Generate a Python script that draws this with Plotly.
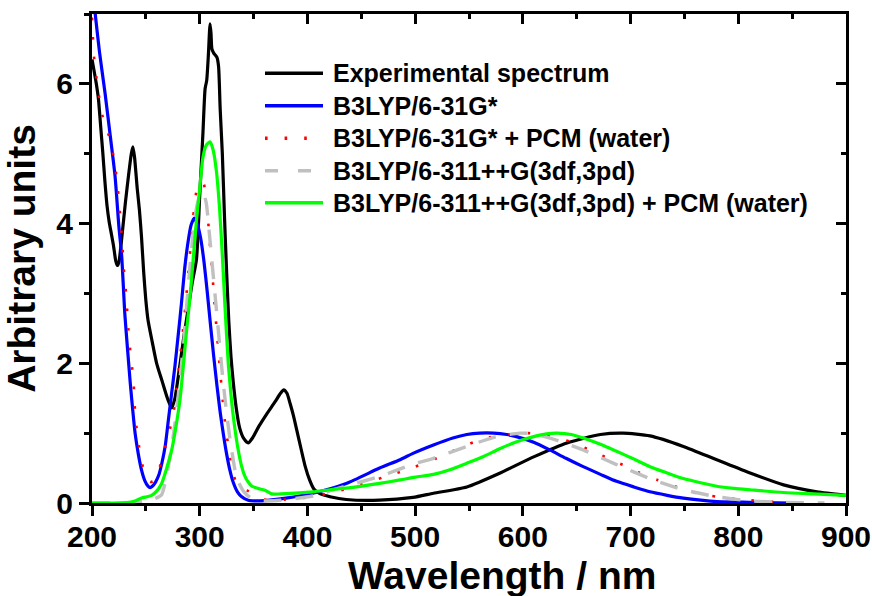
import plotly.graph_objects as go

# Experimental UV-Vis absorption spectrum
exp_nm = [200, 202, 204, 206, 208, 210, 212, 214, 216, 218, 220, 222, 223.5, 225, 228, 231,
          234, 236.5, 238, 239.5, 242, 244, 246, 248, 250, 252, 256, 260, 265, 270, 274, 277,
          280, 285, 290, 293, 297, 300, 303, 305, 306.5, 308, 309.6, 310.5, 311.3, 313, 316,
          317.5, 319, 321, 323, 325, 327, 329, 331, 334, 337, 341, 345, 349, 355, 362, 370,
          375, 378, 381, 384, 387, 390, 394, 398, 402, 406, 412, 421, 436, 467, 498, 517,
          548, 579, 610, 641, 672, 693, 718, 749, 780, 811, 842, 873, 900]
exp_abs = [6.35, 6.18, 6.0, 5.78, 5.4, 5.02, 4.6, 4.25, 4.02, 3.85, 3.68, 3.47, 3.40, 3.45,
           3.85, 4.3, 4.7, 5.0, 5.1, 4.95, 4.5, 4.2, 3.8, 3.3, 2.9, 2.62, 2.3, 2.0, 1.75, 1.5,
           1.36, 1.5, 1.8, 2.35, 2.85, 3.15, 3.49, 4.4, 5.3, 5.93, 6.05, 6.4, 6.86, 6.72, 6.5,
           6.44, 6.38, 6.25, 5.64, 5.0, 4.1, 3.3, 2.6, 2.1, 1.75, 1.35, 1.08, 0.92, 0.86, 0.93,
           1.1, 1.27, 1.45, 1.57, 1.62, 1.57, 1.42, 1.25, 1.05, 0.78, 0.52, 0.33, 0.2, 0.13,
           0.09, 0.05, 0.04, 0.08, 0.14, 0.23, 0.43, 0.66, 0.86, 0.98, 1.0, 0.96, 0.81, 0.62,
           0.43, 0.26, 0.16, 0.11]

# TD-DFT B3LYP/6-31G* (gas phase)
b631_nm = [200, 203, 207, 212, 217, 221.4, 225, 227.5, 230.5, 233, 235.5, 238, 240, 243, 246,
           249, 252, 254, 256, 259, 262, 265, 268, 271, 274, 277, 280, 283, 286, 289, 292,
           295, 298, 301, 304, 307, 310, 313, 316, 319, 322, 325, 328, 331, 335, 339, 345,
           351, 356, 380, 405, 436, 467, 486, 498, 517, 535, 548, 560, 573, 585, 594, 610,
           625, 640, 656, 672, 687, 703, 718, 734, 749, 765, 780, 810, 850]
b631_abs = [7.45, 7.0, 6.45, 5.88, 5.25, 4.68, 3.95, 3.55, 2.7, 2.2, 1.72, 1.3, 1.0, 0.7, 0.47,
            0.32, 0.24, 0.22, 0.24, 0.3, 0.4, 0.58, 0.82, 1.2, 1.58, 1.96, 2.4, 2.85, 3.35,
            3.72, 3.98, 4.08, 3.98, 3.78, 3.45, 3.02, 2.55, 2.1, 1.68, 1.3, 0.98, 0.7, 0.47,
            0.3, 0.16, 0.09, 0.04, 0.03, 0.03, 0.07, 0.14, 0.28, 0.5, 0.62, 0.71, 0.83, 0.93,
            0.98, 1.0, 1.0, 0.98, 0.95, 0.87, 0.76, 0.64, 0.52, 0.41, 0.31, 0.23, 0.16, 0.11,
            0.07, 0.04, 0.02, 0.01, 0.0]

# TD-DFT B3LYP/6-31G* with PCM (water)
b631pcm_nm = [200, 200.5, 201.5, 203.4, 205.9, 208.4, 213.6, 218.3, 221.4, 223.5, 225.4, 226.6,
              228.2, 229, 230.6, 232.2, 233.1, 234.6, 236.2, 238.4, 239.3, 240.6, 243, 245.5,
              250.8, 254, 258, 262, 265.3, 269.4, 274, 277, 279, 281, 283, 285, 287.5, 290,
              292, 294, 296, 298, 300.5, 303, 304, 306, 308, 310, 311.5, 313, 314.5, 316,
              317.5, 319, 320.5, 322, 324, 326.6, 329.7, 333, 337, 341, 345, 352, 363, 380,
              400, 421, 450, 483, 500, 520, 540, 556, 575, 593, 605, 620, 635, 647, 665, 682,
              695, 707, 725, 743, 761, 780, 797, 820, 851]
b631pcm_abs = [6.95, 6.8, 6.45, 6.17, 5.9, 5.61, 5.37, 5.1, 4.83, 4.56, 4.28, 4.0, 3.73, 3.45,
               3.17, 2.89, 2.61, 2.34, 2.06, 1.79, 1.5, 1.17, 0.89, 0.62, 0.35, 0.3, 0.32,
               0.47, 0.64, 0.88, 1.17, 1.42, 1.7, 1.98, 2.25, 2.55, 2.95, 3.4, 3.75, 4.1,
               4.38, 4.52, 4.6, 4.58, 4.56, 4.3, 4.0, 3.6, 3.35, 3.0, 2.72, 2.42, 2.15, 1.88,
               1.62, 1.36, 1.09, 0.81, 0.52, 0.33, 0.22, 0.19, 0.17, 0.1, 0.04, 0.05, 0.08,
               0.14, 0.27, 0.43, 0.52, 0.64, 0.78, 0.88, 0.96, 0.99, 1.0, 0.97, 0.92, 0.86,
               0.74, 0.62, 0.53, 0.44, 0.33, 0.23, 0.14, 0.09, 0.06, 0.03, 0.0]

# TD-DFT B3LYP/6-311++G(3df,3pd) (gas phase)
b6311_nm = [200, 220, 240, 250, 258, 264.7, 268, 272, 276, 279.5, 282.5, 285.5, 288, 291, 294,
            297, 300, 303, 306, 309, 312, 315, 318, 321, 324, 327.5, 332.8, 336, 340.5, 346,
            354, 360, 375, 405, 433, 467, 497, 517, 548, 573, 597, 610, 631, 659, 687, 721,
            749, 780, 811, 840, 880]
b6311_abs = [0.0, 0.0, 0.01, 0.03, 0.06, 0.12, 0.3, 0.62, 1.02, 1.45, 1.9, 2.35, 2.85, 3.4, 3.88,
             4.22, 4.4, 4.45, 4.3, 3.85, 3.35, 2.85, 2.35, 1.85, 1.42, 0.98, 0.47, 0.3, 0.17,
             0.09, 0.04, 0.03, 0.04, 0.1, 0.23, 0.38, 0.55, 0.64, 0.81, 0.94, 1.0, 0.99, 0.9,
             0.74, 0.55, 0.33, 0.19, 0.09, 0.03, 0.01, 0.0]

# TD-DFT B3LYP/6-311++G(3df,3pd) with PCM (water)
b6311pcm_nm = [200, 220, 235, 240, 246, 251, 255.4, 260, 264.7, 269, 274, 278, 281.7, 285, 288,
               291, 294, 297, 300, 303, 306, 309.5, 312.5, 315.5, 318.5, 321, 323.5, 326.5,
               329, 331.5, 335.5, 339, 342, 345, 348.5, 356, 361, 366.8, 375, 405, 421, 440,
               467, 486, 500, 517, 533, 548, 564, 579, 595, 610, 622, 632, 645, 656, 672, 687,
               703, 718, 734, 749, 765, 780, 796, 811, 842, 870, 900]
b6311pcm_abs = [0.0, 0.0, 0.01, 0.03, 0.07, 0.09, 0.11, 0.17, 0.28, 0.48, 0.76, 1.1, 1.48, 2.0,
                2.5, 2.95, 3.5, 4.05, 4.5, 4.95, 5.12, 5.17, 5.05, 4.75, 4.2, 3.55, 2.8, 2.0,
                1.55, 1.2, 0.78, 0.52, 0.38, 0.3, 0.24, 0.2, 0.18, 0.13, 0.13, 0.16, 0.19, 0.22,
                0.28, 0.33, 0.37, 0.41, 0.48, 0.57, 0.67, 0.78, 0.88, 0.95, 0.99, 1.0, 0.98,
                0.93, 0.84, 0.74, 0.63, 0.52, 0.43, 0.35, 0.29, 0.24, 0.21, 0.19, 0.15, 0.13,
                0.11]

series_names = [
    "Experimental spectrum",
    "B3LYP/6-31G*",
    "B3LYP/6-31G* + PCM (water)",
    "B3LYP/6-311++G(3df,3pd)",
    "B3LYP/6-311++G(3df,3pd) + PCM (water)",
]
x_ticks = [200, 300, 400, 500, 600, 700, 800, 900]
y_ticks = [0, 2, 4, 6]
x_title = "Wavelength / nm"
y_title = "Arbitrary units"

FONT = "Arial, 'Liberation Sans', sans-serif"

styles = [
    dict(color="#000000", width=3.2, dash="solid"),
    dict(color="#0000FF", width=3.2, dash="solid"),
    dict(color="#FF0000", width=2.6, dash="2.6px,17px"),
    dict(color="#C0C0C0", width=3.4, dash="18px,14px"),
    dict(color="#00FF00", width=3.2, dash="solid"),
]
legend_dash = ["solid", "solid", "2.6px,17px", "13px,20px", "solid"]
data = [(exp_nm, exp_abs), (b631_nm, b631_abs), (b631pcm_nm, b631pcm_abs),
        (b6311_nm, b6311_abs), (b6311pcm_nm, b6311pcm_abs)]
# the last series sits on the mirrored (top/right) axes so those axes get drawn
axis_refs = [("x", "y")] * 4 + [("x2", "y2")]

fig = go.Figure()
for (xs, ys), name, st, (xr, yr) in zip(data, series_names, styles, axis_refs):
    fig.add_trace(go.Scatter(
        x=xs, y=ys, mode="lines", name=name, showlegend=False,
        xaxis=xr, yaxis=yr,
        line=dict(color=st["color"], width=st["width"], dash=st["dash"],
                  shape="spline", smoothing=0.6),
    ))

# Plot area in pixels: x 92..846, y 14..503
W, H = 872, 596
L, R, T, B = 92, 26, 14, 93
pw, ph = W - L - R, H - T - B

def px_to_paper(px, py):
    return (px - L) / pw, (H - B - py) / ph

# Legend block (sample lines + labels)
row_y = [73.3, 105.7, 138.3, 170.7, 202.7]
for i, (name, st) in enumerate(zip(series_names, styles)):
    x0, y0 = px_to_paper(265, row_y[i])
    x1, _ = px_to_paper(323, row_y[i])
    fig.add_shape(type="line", xref="paper", yref="paper", x0=x0, x1=x1, y0=y0, y1=y0,
                  line=dict(color=st["color"], width=3.4, dash=legend_dash[i]))
    tx, _ = px_to_paper(331, row_y[i])
    fig.add_annotation(xref="paper", yref="paper", x=tx, y=y0, text=name,
                       showarrow=False, xanchor="left", yanchor="middle",
                       font=dict(family=FONT, size=25, color="black", weight="bold"))

# x-axis title placed low, close to the bottom edge of the page
tx, ty = px_to_paper(502, 575)
fig.add_annotation(xref="paper", yref="paper", x=tx, y=ty, text=x_title,
                   showarrow=False, xanchor="center", yanchor="middle",
                   font=dict(family=FONT, size=39, color="black", weight="bold"))

axis_common = dict(showgrid=False, zeroline=False, linecolor="black", linewidth=3,
                   tickcolor="black", tickwidth=3, ticklen=10, automargin=False)

fig.update_layout(
    width=W, height=H,
    margin=dict(l=L, r=R, t=T, b=B, pad=0),
    paper_bgcolor="white", plot_bgcolor="white",
    font=dict(family=FONT, color="black"),
    xaxis=dict(range=[200, 900], tickvals=x_ticks, ticks="outside", showline=True,
               mirror=True, tickfont=dict(size=30, weight="bold"), ticklabelstandoff=-5,
               minor=dict(dtick=50, ticks="outside", ticklen=5, tickwidth=3,
                          tickcolor="black"),
               **axis_common),
    yaxis=dict(range=[0, 7], tickvals=y_ticks, ticks="outside", showline=True,
               mirror=True, tickfont=dict(size=30, weight="bold"),
               minor=dict(dtick=1, ticks="outside", ticklen=5, tickwidth=3,
                          tickcolor="black"),
               title=dict(text=y_title, standoff=18,
                          font=dict(size=39, weight="bold")),
               **axis_common),
    xaxis2=dict(range=[200, 900], overlaying="x", side="top", anchor="y2",
                tickvals=x_ticks, ticks="inside", showticklabels=False, showline=False,
                minor=dict(dtick=50, ticks="inside", ticklen=5, tickwidth=3,
                           tickcolor="black"),
                **axis_common),
    yaxis2=dict(range=[0, 7], overlaying="y", side="right", anchor="x2",
                tickvals=y_ticks, ticks="inside", showticklabels=False, showline=False,
                minor=dict(dtick=1, ticks="inside", ticklen=5, tickwidth=3,
                           tickcolor="black"),
                **axis_common),
)

fig.write_html("out.html")
